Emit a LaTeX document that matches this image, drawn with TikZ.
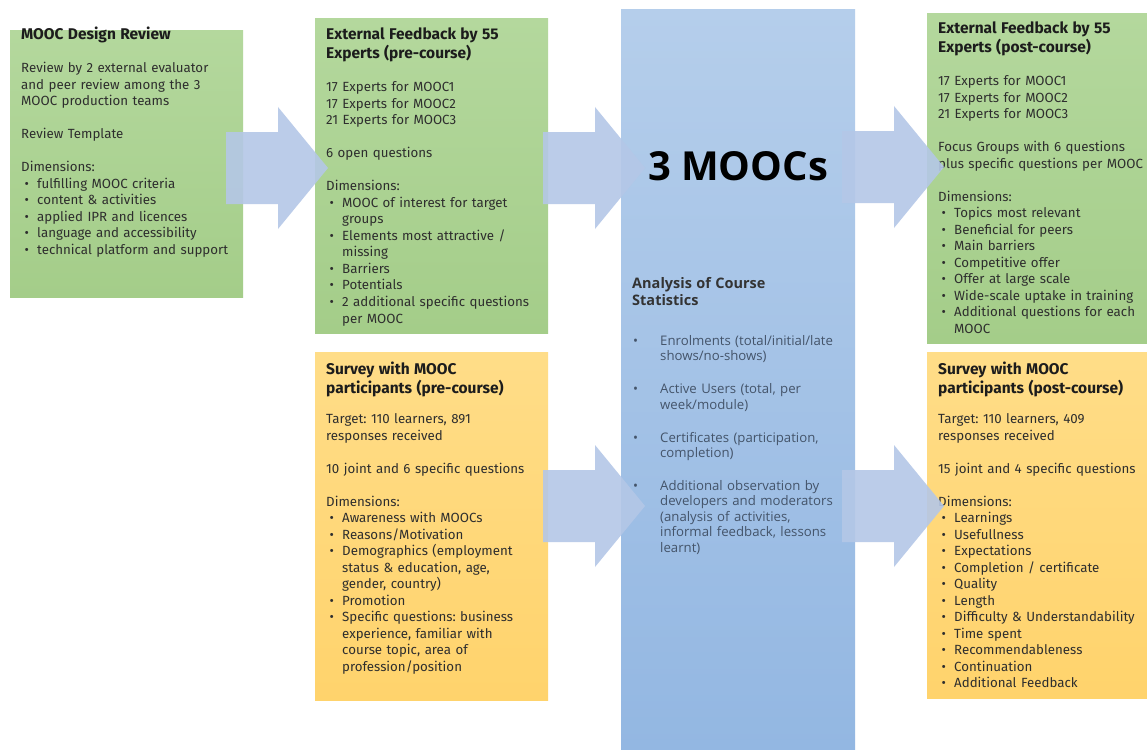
\documentclass[tikz,border=0pt]{standalone}
\usepackage{fontspec}
\setmainfont{Fira Sans}
\newfontfamily\osans{Open Sans}
\definecolor{gtop}{HTML}{B4D89D}
\definecolor{gbot}{HTML}{A4CD89}
\definecolor{ytop}{HTML}{FFDD88}
\definecolor{ybot}{HTML}{FFD36C}
\definecolor{btop}{HTML}{B5CEEB}
\definecolor{bbot}{HTML}{93B7E2}
\definecolor{arrowc}{HTML}{B4C7E7}
\definecolor{bodyc}{HTML}{2E2E2E}
\definecolor{headc}{HTML}{1C1C1C}
\definecolor{cbody}{HTML}{44546A}
\definecolor{chead}{HTML}{333333}
\newcommand\boxhead[1]{{\fontsize{15.5}{19}\selectfont\bfseries\color{headc}#1\par}}
\newcommand\bgap{\par\vspace{16.5pt}}
\newcommand\bitem[1]{\par\hangindent=16pt\hangafter=1\noindent\hspace*{3.5pt}\makebox[12.5pt][l]{•}#1}
\newcommand\citem[1]{\par\hangindent=28pt\hangafter=1\noindent\makebox[28pt][l]{\hspace*{1pt}•}#1}
\frenchspacing
\begin{document}
\begin{tikzpicture}[x=1pt,y=-1pt,
  greenbox/.style={draw=none,top color=gtop,bottom color=gbot,inner sep=0pt,anchor=north west},
  yellowbox/.style={draw=none,top color=ytop,bottom color=ybot,inner sep=0pt,anchor=north west},
  bluebox/.style={draw=none,top color=btop,bottom color=bbot,inner sep=0pt,anchor=north west},
  boxtext/.style={anchor=base west,inner sep=0pt,text width=260pt,align=left,text=bodyc,
    font=\fontsize{13.3}{16.5}\selectfont},
  ctext/.style={anchor=base west,inner sep=0pt,text width=220pt,align=left,text=cbody,
    font=\osans\fontsize{13.2}{15.5}\selectfont},
  pics/blockarr/.style={code={\fill[arrowc,fill opacity=0.9]
    (0,-36) -- (52,-36) -- (52,-61) -- (102,0) -- (52,61) -- (52,36) -- (0,36) -- cycle;}}]
\useasboundingbox (0,0) rectangle (1147,749);
\fill[white] (0,0) rectangle (1147,749);

% boxes
\node[greenbox,minimum width=233pt,minimum height=267pt] (design) at (10,30) {};
\node[greenbox,minimum width=233pt,minimum height=315pt] (expre) at (315,18) {};
\node[yellowbox,minimum width=233pt,minimum height=348pt] (svpre) at (315,352) {};
\node[bluebox,minimum width=234pt,minimum height=740pt] (moocbox) at (621,9) {};
\node[greenbox,minimum width=220pt,minimum height=330pt] (expost) at (927,13) {};
\node[yellowbox,minimum width=220pt,minimum height=346pt] (svpost) at (927,352) {};

% texts
\node[boxtext] (designT) at (21,40) {%
\boxhead{MOOC Design Review}\bgap
Review by 2 external evaluator\newline and peer review among the 3\newline MOOC production teams\bgap
Review Template\bgap
Dimensions:
\bitem{fulfilling MOOC criteria}
\bitem{content \& activities}
\bitem{applied IPR and licences}
\bitem{language and accessibility}
\bitem{technical platform and support}\par};

\node[boxtext] (expreT) at (326,40) {%
\boxhead{External Feedback by 55\\Experts (pre-course)}\bgap
17 Experts for MOOC1\newline 17 Experts for MOOC2\newline 21 Experts for MOOC3\bgap
6 open questions\bgap
Dimensions:
\bitem{MOOC of interest for target\newline groups}
\bitem{Elements most attractive /\newline missing}
\bitem{Barriers}
\bitem{Potentials}
\bitem{2 additional specific questions\newline per MOOC}\par};

\node[boxtext] (svpreT) at (326,374) {%
\boxhead{Survey with MOOC\\participants (pre-course)}\par\vspace{14pt}
Target: 110 learners, 891\newline responses received\bgap
10 joint and 6 specific questions\bgap
Dimensions:
\bitem{Awareness with MOOCs}
\bitem{Reasons/Motivation}
\bitem{Demographics (employment\newline status \& education, age,\newline gender, country)}
\bitem{Promotion}
\bitem{Specific questions: business\newline experience, familiar with\newline course topic, area of\newline profession/position}\par};

\node[boxtext] (expostT) at (938,34) {%
\boxhead{External Feedback by 55\\Experts (post-course)}\bgap
17 Experts for MOOC1\newline 17 Experts for MOOC2\newline 21 Experts for MOOC3\bgap
Focus Groups with 6 questions\newline plus specific questions per MOOC\bgap
Dimensions:
\bitem{Topics most relevant}
\bitem{Beneficial for peers}
\bitem{Main barriers}
\bitem{Competitive offer}
\bitem{Offer at large scale}
\bitem{Wide-scale uptake in training}
\bitem{Additional questions for each\newline MOOC}\par};

\node[boxtext] (svpostT) at (938,374) {%
\boxhead{Survey with MOOC\\participants (post-course)}\par\vspace{14pt}
Target: 110 learners, 409\newline responses received\bgap
15 joint and 4 specific questions\bgap
Dimensions:
\bitem{Learnings}
\bitem{Usefullness}
\bitem{Expectations}
\bitem{Completion / certificate}
\bitem{Quality}
\bitem{Length}
\bitem{Difficulty \& Understandability}
\bitem{Time spent}
\bitem{Recommendableness}
\bitem{Continuation}
\bitem{Additional Feedback}\par};

\node[font=\osans\bfseries\fontsize{40}{44}\selectfont,text=black,inner sep=0pt] (moocs) at (738,166) {3 MOOCs};

\node[ctext] (statsT) at (632,288) {%
{\fontsize{14.5}{17}\selectfont\bfseries\color{chead}Analysis of Course\\Statistics\par}\vspace{24.5pt}
\citem{Enrolments (total/initial/late\newline shows/no-shows)}\par\vspace{17.5pt}
\citem{Active Users (total, per\newline week/module)}\par\vspace{17.5pt}
\citem{Certificates (participation,\newline completion)}\par\vspace{17pt}
\citem{Additional observation by\newline developers and moderators\newline (analysis of activities,\newline informal feedback, lessons\newline learnt)}\par};

% arrows
\coordinate (a1) at (226,168);
\coordinate (a2) at (543,168);
\coordinate (a3) at (842,167);
\coordinate (a4) at (543,506);
\coordinate (a5) at (842,506);
\pic at (a1) {blockarr};
\pic at (a2) {blockarr};
\pic at (a3) {blockarr};
\pic at (a4) {blockarr};
\pic at (a5) {blockarr};
\end{tikzpicture}
\end{document}
